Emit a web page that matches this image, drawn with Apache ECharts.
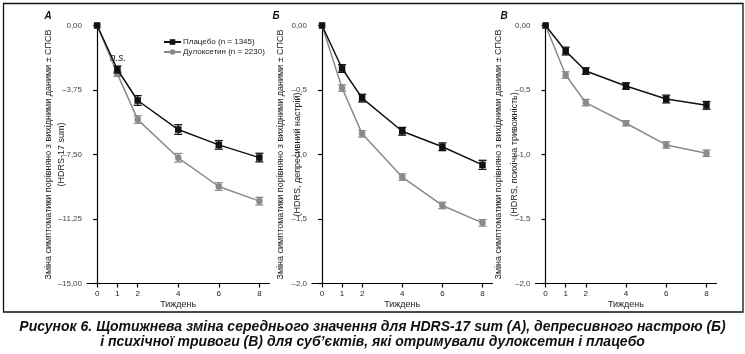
<!DOCTYPE html>
<html><head><meta charset="utf-8">
<script src="https://cdn.jsdelivr.net/npm/echarts@6/dist/echarts.min.js"></script>
<style>html,body{margin:0;padding:0;background:#fff}#c{width:745px;height:354px}</style>
</head><body><div id="c"></div>
<script>
// ---- data ----
var weeks = [0, 1, 2, 4, 6, 8];
var weekTicks = [0, 1, 2, 4, 6, 8];
var namePlacebo = 'Плацебо (n = 1345)';
var nameDulox = 'Дулоксетин (n = 2230)';

var A_placebo = [0, -2.56, -4.36, -6.05, -6.94, -7.68];
var A_placeboErr = [0, 0.2, 0.28, 0.28, 0.25, 0.25];
var A_dulox = [0, -2.81, -5.47, -7.69, -9.36, -10.21];
var A_duloxErr = [0, 0.15, 0.22, 0.25, 0.22, 0.22];

var B_placebo = [0, -0.333, -0.563, -0.82, -0.94, -1.08];
var B_placeboErr = [0, 0.03, 0.03, 0.03, 0.03, 0.035];
var B_dulox = [0, -0.485, -0.84, -1.175, -1.395, -1.53];
var B_duloxErr = [0, 0.025, 0.025, 0.025, 0.025, 0.025];

var C_placebo = [0, -0.198, -0.353, -0.469, -0.57, -0.619];
var C_placeboErr = [0, 0.03, 0.025, 0.025, 0.03, 0.03];
var C_dulox = [0, -0.384, -0.598, -0.758, -0.926, -0.99];
var C_duloxErr = [0, 0.025, 0.025, 0.02, 0.025, 0.025];

var yTicksA = [0, -3.75, -7.5, -11.25, -15];
var yTicksBC = [0, -0.5, -1.0, -1.5, -2.0];

var panelLetters = ['A', 'Б', 'В'];
var yNames = [
  'Зміна симптоматики порівняно з вихідними даними ± СПСВ\n(HDRS-17 sum)',
  'Зміна симптоматики порівняно з вихідними даними ± СПСВ\n(HDRS, депресивний настрій)',
  'Зміна симптоматики порівняно з вихідними даними ± СПСВ\n(HDRS, психічна тривожність)'
];
var xName = 'Тиждень';
var caption = 'Рисунок 6. Щотижнева зміна середнього значення для HDRS-17 sum (А), депресивного настрою (Б)\nі психічної тривоги (В) для суб’єктів, які отримували дулоксетин і плацебо';

// ---- chart ----
var FONT = '"Liberation Sans Narrow", "Liberation Sans", Arial, sans-serif';
var BLACK = '#111111', GRAY = '#8a8a8a';

function pairs(ys) { return weeks.map(function (w, i) { return [w, ys[i]]; }); }
function errData(ys, es) { return weeks.map(function (w, i) { return [w, ys[i], es[i]]; }); }

function fmt2(v) {
  if (v === 0) return '0,00';
  return '–' + Math.abs(v).toFixed(2).replace('.', ',');
}
function fmt1(v) {
  if (v === 0) return '0,00';
  return '–' + Math.abs(v).toFixed(1).replace('.', ',');
}

var grids = [
  { left: 87, top: 25.5, width: 182.5, height: 258 },
  { left: 312, top: 25.5, width: 180.5, height: 258 },
  { left: 535.5, top: 25.5, width: 181, height: 258 }
];
var nameGaps = [19, 6, 13];
var nameLineHeights = [13, 17, 16];

var xAxes = grids.map(function (g, i) {
  return {
    type: 'value', gridIndex: i, min: -0.5, max: 8.5,
    name: xName, nameLocation: 'middle', nameGap: 17, nameMoveOverlap: false,
    nameTextStyle: { fontFamily: FONT, fontSize: 9, color: '#222' },
    axisLine: { onZero: false, lineStyle: { color: '#000', width: 1.2 } },
    axisTick: { show: true, length: 4, customValues: weekTicks, lineStyle: { color: '#000', width: 1.2 } },
    axisLabel: { customValues: weekTicks, fontFamily: FONT, fontSize: 8, color: '#222', margin: 6 },
    splitLine: { show: false }
  };
});

var yAxes = grids.map(function (g, i) {
  var isA = i === 0;
  return {
    type: 'value', gridIndex: i,
    min: isA ? -15 : -2, max: 0, interval: isA ? 3.75 : 0.5,
    name: yNames[i], nameLocation: 'middle', nameRotate: 90, nameGap: nameGaps[i],
    nameMoveOverlap: false,
    nameTextStyle: { fontFamily: FONT, fontSize: 9, color: '#222', lineHeight: nameLineHeights[i], align: 'center' },
    axisLine: { show: true, lineStyle: { color: '#000', width: 1.2 } },
    axisTick: { show: true, length: 4, lineStyle: { color: '#000', width: 1.2 } },
    axisLabel: { formatter: isA ? fmt2 : fmt1, fontFamily: FONT, fontSize: 8, color: '#444', margin: 5 },
    splitLine: { show: false }
  };
});

function errSeries(name, ys, es, idx, color) {
  return {
    type: 'custom', name: name, xAxisIndex: idx, yAxisIndex: idx, z: 3,
    data: errData(ys, es),
    encode: { x: 0, y: 1 },
    renderItem: function (params, api) {
      var x = api.value(0), y = api.value(1), e = api.value(2);
      if (!e) return null;
      var hi = api.coord([x, y + e]), lo = api.coord([x, y - e]);
      var w = 4;
      var st = { stroke: color, lineWidth: 1.3 };
      return {
        type: 'group', children: [
          { type: 'line', shape: { x1: hi[0], y1: hi[1], x2: lo[0], y2: lo[1] }, style: st },
          { type: 'line', shape: { x1: hi[0] - w, y1: hi[1], x2: hi[0] + w, y2: hi[1] }, style: st },
          { type: 'line', shape: { x1: lo[0] - w, y1: lo[1], x2: lo[0] + w, y2: lo[1] }, style: st }
        ]
      };
    },
    silent: true
  };
}

function lineSeries(name, ys, idx, color, symbol, z) {
  return {
    type: 'line', name: name, xAxisIndex: idx, yAxisIndex: idx, z: z,
    data: pairs(ys), symbol: symbol, symbolSize: 6.5,
    showSymbol: true,
    lineStyle: { color: color, width: 1.5 },
    itemStyle: { color: color, borderWidth: 0 },
    emphasis: { disabled: true }
  };
}

var sets = [
  [A_placebo, A_placeboErr, A_dulox, A_duloxErr],
  [B_placebo, B_placeboErr, B_dulox, B_duloxErr],
  [C_placebo, C_placeboErr, C_dulox, C_duloxErr]
];
var series = [];
sets.forEach(function (s, i) {
  series.push(lineSeries(nameDulox, s[2], i, GRAY, 'circle', 2));
  series.push(errSeries(nameDulox, s[2], s[3], i, GRAY));
  series.push(lineSeries(namePlacebo, s[0], i, BLACK, 'rect', 4));
  series.push(errSeries(namePlacebo, s[0], s[1], i, BLACK));
});

var letterPos = [[48, 16], [276, 16], [504, 16]];
var graphics = [
  { type: 'rect', shape: { x: 3.5, y: 3.5, width: 739.5, height: 308.5 },
    style: { fill: 'none', stroke: '#111', lineWidth: 1.3 }, silent: true },
  { type: 'text', x: 118, y: 58, style: { text: 'n.s.', fontFamily: FONT, fontStyle: 'italic', fontSize: 10, fill: '#222', align: 'center', verticalAlign: 'middle' } },
  { type: 'text', x: 372.5, y: 335, style: { text: caption, fontFamily: FONT, fontStyle: 'italic', fontWeight: 'bold', fontSize: 14, lineHeight: 15, fill: '#111', align: 'center', verticalAlign: 'middle' } }
];
panelLetters.forEach(function (L, i) {
  graphics.push({ type: 'text', x: letterPos[i][0], y: letterPos[i][1],
    style: { text: L, fontFamily: FONT, fontStyle: 'italic', fontWeight: 'bold', fontSize: 10, fill: '#111', align: 'center', verticalAlign: 'middle' } });
});

var chart = echarts.init(document.getElementById('c'), null, { renderer: 'canvas' });
chart.setOption({
  animation: false,
  backgroundColor: '#fff',
  grid: grids,
  xAxis: xAxes,
  yAxis: yAxes,
  legend: {
    left: 163, top: 38, orient: 'vertical', padding: 0, itemGap: 2, itemWidth: 17, itemHeight: 7,
    data: [namePlacebo, nameDulox],
    textStyle: { fontFamily: FONT, fontSize: 8, color: '#222', padding: [0, 0, 0, -3] },
    selectedMode: false
  },
  series: series,
  graphic: graphics
});
</script>
</body></html>
